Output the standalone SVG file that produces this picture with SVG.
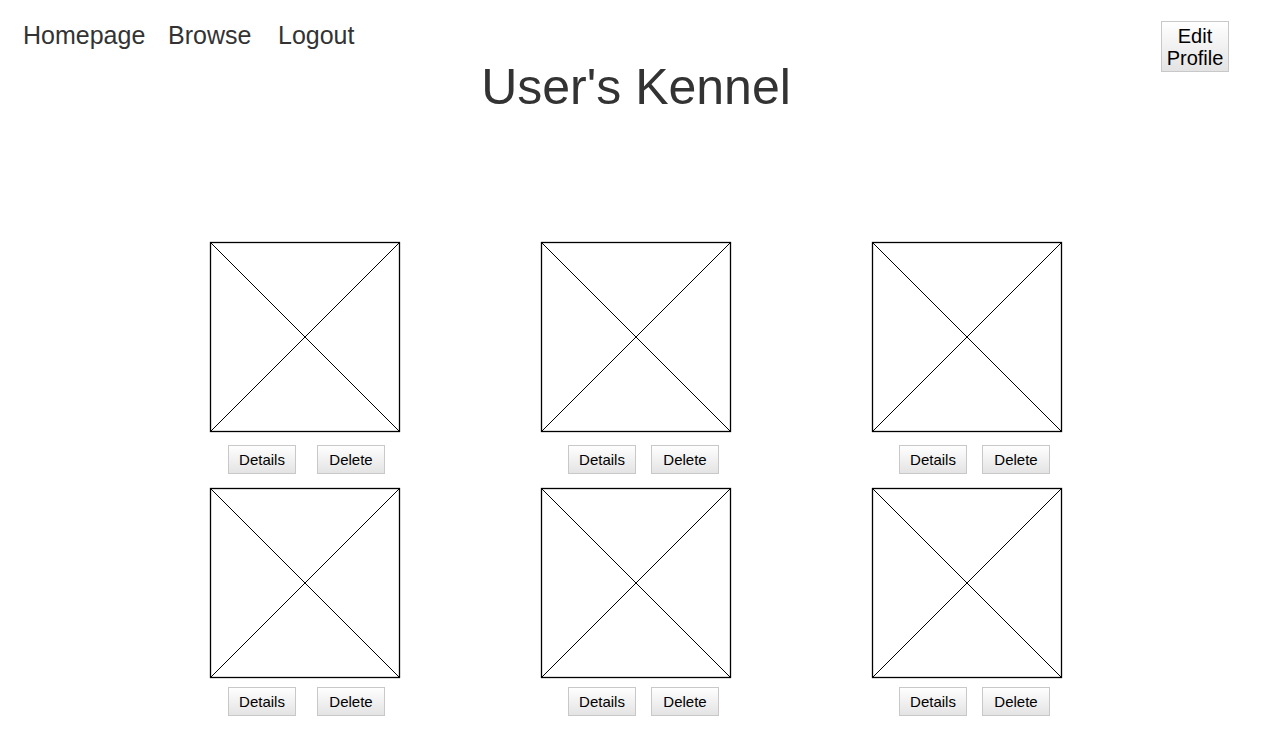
<svg xmlns="http://www.w3.org/2000/svg" width="1272" height="733" viewBox="0 0 1272 733">
<defs>
<linearGradient id="btnGrad" x1="0" y1="0" x2="0" y2="1">
<stop offset="0" stop-color="#ffffff"/>
<stop offset="1" stop-color="#e3e3e3"/>
</linearGradient>
</defs>
<style>
.nav{font-family:"Liberation Sans",Arial,sans-serif;font-size:25px;fill:#333333}
.title{font-family:"Liberation Sans",Arial,sans-serif;font-size:50px;fill:#333333;text-anchor:middle}
.btn{fill:url(#btnGrad);stroke:#c8c8c8;stroke-width:1}
.btxt{font-family:"Liberation Sans",Arial,sans-serif;font-size:15px;fill:#000000;text-anchor:middle}
.etxt{font-family:"Liberation Sans",Arial,sans-serif;font-size:20px;fill:#000000;text-anchor:middle}
.img{fill:#ffffff;stroke:#000000;stroke-width:1.3}
.x{stroke:#000000;stroke-width:1}
</style>
<rect width="1272" height="733" fill="#ffffff"/>
<g id="nav">
<text class="nav" x="23" y="44">Homepage</text>
<text class="nav" x="168" y="44">Browse</text>
<text class="nav" x="278" y="44">Logout</text>
</g>
<g id="edit-profile">
<rect class="btn" x="1161.5" y="21.5" width="67" height="50"/>
<text class="etxt" x="1195" y="43">Edit</text>
<text class="etxt" x="1195" y="64.5">Profile</text>
</g>
<g id="title">
<text class="title" x="636" y="104">User's Kennel</text>
</g>
<g id="card-1-1">
<rect class="img" x="210.5" y="242.5" width="189" height="189"/>
<line class="x" x1="210.5" y1="242.5" x2="399.5" y2="431.5"/>
<line class="x" x1="399.5" y1="242.5" x2="210.5" y2="431.5"/>
<rect class="btn" x="228.5" y="445.5" width="67" height="28"/>
<text class="btxt" x="262" y="465">Details</text>
<rect class="btn" x="317.5" y="445.5" width="67" height="28"/>
<text class="btxt" x="351" y="465">Delete</text>
</g>
<g id="card-1-2">
<rect class="img" x="541.5" y="242.5" width="189" height="189"/>
<line class="x" x1="541.5" y1="242.5" x2="730.5" y2="431.5"/>
<line class="x" x1="730.5" y1="242.5" x2="541.5" y2="431.5"/>
<rect class="btn" x="568.5" y="445.5" width="67" height="28"/>
<text class="btxt" x="602" y="465">Details</text>
<rect class="btn" x="651.5" y="445.5" width="67" height="28"/>
<text class="btxt" x="685" y="465">Delete</text>
</g>
<g id="card-1-3">
<rect class="img" x="872.5" y="242.5" width="189" height="189"/>
<line class="x" x1="872.5" y1="242.5" x2="1061.5" y2="431.5"/>
<line class="x" x1="1061.5" y1="242.5" x2="872.5" y2="431.5"/>
<rect class="btn" x="899.5" y="445.5" width="67" height="28"/>
<text class="btxt" x="933" y="465">Details</text>
<rect class="btn" x="982.5" y="445.5" width="67" height="28"/>
<text class="btxt" x="1016" y="465">Delete</text>
</g>
<g id="card-2-1">
<rect class="img" x="210.5" y="488.5" width="189" height="189"/>
<line class="x" x1="210.5" y1="488.5" x2="399.5" y2="677.5"/>
<line class="x" x1="399.5" y1="488.5" x2="210.5" y2="677.5"/>
<rect class="btn" x="228.5" y="687.5" width="67" height="28"/>
<text class="btxt" x="262" y="707">Details</text>
<rect class="btn" x="317.5" y="687.5" width="67" height="28"/>
<text class="btxt" x="351" y="707">Delete</text>
</g>
<g id="card-2-2">
<rect class="img" x="541.5" y="488.5" width="189" height="189"/>
<line class="x" x1="541.5" y1="488.5" x2="730.5" y2="677.5"/>
<line class="x" x1="730.5" y1="488.5" x2="541.5" y2="677.5"/>
<rect class="btn" x="568.5" y="687.5" width="67" height="28"/>
<text class="btxt" x="602" y="707">Details</text>
<rect class="btn" x="651.5" y="687.5" width="67" height="28"/>
<text class="btxt" x="685" y="707">Delete</text>
</g>
<g id="card-2-3">
<rect class="img" x="872.5" y="488.5" width="189" height="189"/>
<line class="x" x1="872.5" y1="488.5" x2="1061.5" y2="677.5"/>
<line class="x" x1="1061.5" y1="488.5" x2="872.5" y2="677.5"/>
<rect class="btn" x="899.5" y="687.5" width="67" height="28"/>
<text class="btxt" x="933" y="707">Details</text>
<rect class="btn" x="982.5" y="687.5" width="67" height="28"/>
<text class="btxt" x="1016" y="707">Delete</text>
</g>
<g id="connectors"></g>
</svg>
